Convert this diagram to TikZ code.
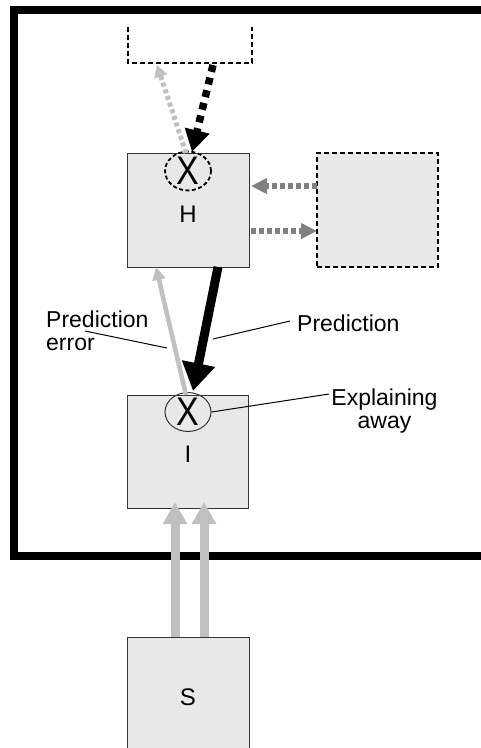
\documentclass[tikz,border=0pt]{standalone}
\usepackage{fontspec}
\setmainfont{Liberation Sans}
\usetikzlibrary{arrows.meta,shapes.geometric}
\definecolor{boxfill}{HTML}{E8E8E8}
\definecolor{ltgray}{HTML}{C0C0C0}
\definecolor{mdgray}{HTML}{808080}
\begin{document}
\begin{tikzpicture}[x=1pt,y=-1pt,
  box/.style={draw=black!80, line width=1pt, fill=boxfill, minimum width=122pt, minimum height=114pt, inner sep=0pt},
  dbox/.style={draw=black, line width=2.6pt, dash pattern=on 5pt off 3pt, fill=boxfill, minimum width=121pt, minimum height=114pt, inner sep=0pt},
  lbl/.style={font=\fontsize{23}{27}\selectfont, inner sep=0pt},
  big/.style={font=\fontsize{24}{28}\selectfont, inner sep=0pt},
  ell/.style={ellipse, draw=black!80, line width=1pt, minimum width=46pt, minimum height=36pt, inner sep=0pt, font=\fontsize{40}{40}\selectfont},
  leader/.style={draw=black, line width=1pt},
  frame/.style={draw=black, line width=8pt},
  topbox/.style={draw=black, line width=2.6pt, dash pattern=on 5pt off 3pt},
  errdot/.style={ltgray, line width=5pt, dash pattern=on 4pt off 3pt, -{Triangle[width=13pt,length=12pt]}},
  preddash/.style={black, line width=7.5pt, dash pattern=on 7pt off 6pt, -{Triangle[width=24pt,length=22pt]}},
  sidearrow/.style={mdgray, line width=5.5pt, dash pattern=on 5pt off 3pt, -{Triangle[width=15pt,length=16pt]}},
  predarrow/.style={black, line width=9pt, -{Triangle[width=32pt,length=28pt]}},
  errarrow/.style={ltgray, line width=4.5pt, -{Triangle[width=13pt,length=13pt]}},
  inarrow/.style={ltgray, line width=9pt, -{Triangle[width=23pt,length=22pt]}}
]
\useasboundingbox (0,0) rectangle (481,748);
\clip (0,0) rectangle (481,748);
\fill[white] (0,0) rectangle (481,748);

% outer frame
\draw[frame] (500,9.5) -- (14,9.5) -- (14,556) -- (500,556);

% top open dashed box
\draw[topbox] (128,27) -- (128,63) -- (252,63) -- (252,27);
\coordinate (Terr) at (157,65);
\coordinate (Tpred) at (213,65);

% boxes
\node[box] (H) at (188,210) {};
\node[ell, dash pattern=on 4pt off 2.5pt, draw=black, line width=1.8pt] (Hx) at (188,171) {\scalebox{0.85}[1]{X}};
\node[big] (Hlab) at (188,214) {H};

\node[dbox] (R) at (377.5,210) {};

\node[box, minimum width=121pt, minimum height=113pt] (I) at (187.5,451.5) {};
\node[ell] (Ix) at (188,412) {\scalebox{0.85}[1]{X}};
\node[big] (Ilab) at (188,454) {I};

\node[box] (S) at (188,694) {};
\node[big] (Slab) at (188,697) {S};

% connector end points
\coordinate (Hxtop) at (186,153);
\coordinate (Hxtip) at (192,152);
\coordinate (Rup) at (317,186);
\coordinate (Hup) at (251,186);
\coordinate (Hlo) at (251,231);
\coordinate (Rlo) at (317,231);
\coordinate (Hbotpred) at (218,267);
\coordinate (Ixpred) at (193,391);
\coordinate (Ixerr) at (186,395);
\coordinate (Hboterr) at (156,267);
\coordinate (Sl) at (175,637);
\coordinate (Sr) at (204,637);
\coordinate (Il) at (175,502);
\coordinate (Ir) at (204,502);

% arrows
\draw[errdot] (Hxtop) -- (Terr);
\draw[preddash] (Tpred) -- (Hxtip);
\draw[sidearrow] (Rup) -- (Hup);
\draw[sidearrow] (Hlo) -- (Rlo);
\draw[errarrow] (Ixerr) -- (Hboterr);
\draw[predarrow] (Hbotpred) -- (Ixpred);
\draw[inarrow] (Sl) -- (Il);
\draw[inarrow] (Sr) -- (Ir);

% labels
\node[lbl, anchor=base west] (pe1) at (46,327) {Prediction};
\node[lbl, anchor=base west] (pe2) at (46,350) {error};
\node[lbl, anchor=base west] (pr) at (297,331) {Prediction};
\node[lbl, anchor=base] (ea1) at (384.5,405) {Explaining};
\node[lbl, anchor=base] (ea2) at (384.5,428) {away};

% leader lines
\coordinate (peA) at (85,331);
\coordinate (peB) at (167,348);
\coordinate (prA) at (290,321);
\coordinate (prB) at (213,339);
\coordinate (eaA) at (329,394);
\draw[leader] (peA) -- (peB);
\draw[leader] (prA) -- (prB);
\draw[leader] (eaA) -- (Ix.east);
\end{tikzpicture}
\end{document}
